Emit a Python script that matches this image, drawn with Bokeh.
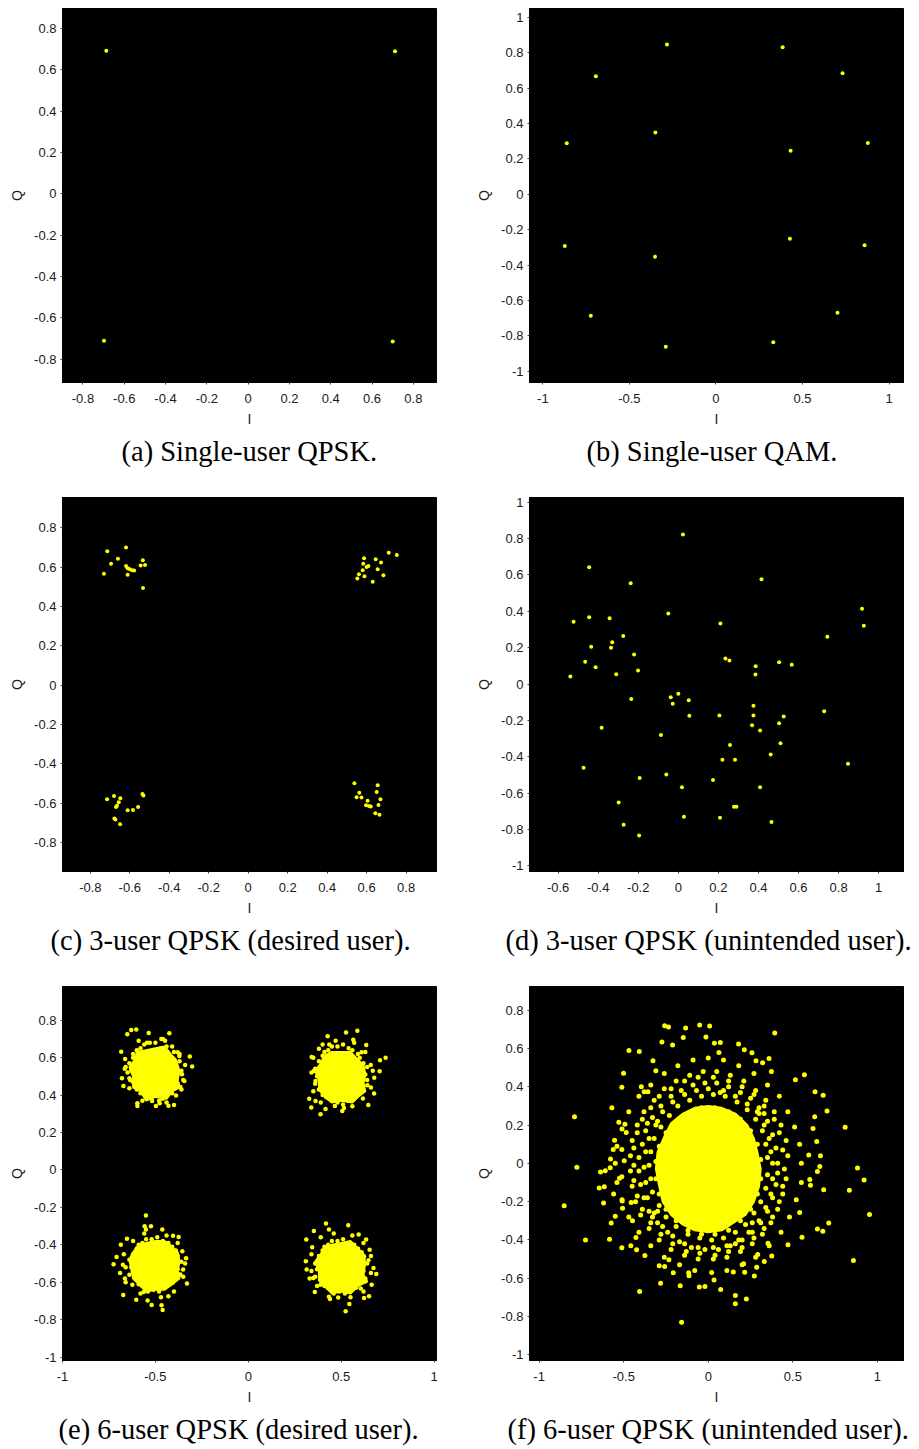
from bokeh.plotting import figure
from bokeh.layouts import column, row
from bokeh.models import FixedTicker, Range1d, Title
from bokeh.embed import file_html
from bokeh.resources import INLINE

YELLOW = "#ffff00"

# ---------------- data ----------------
# (a) single-user QPSK
a_i = [-0.687, 0.711, -0.698, 0.700]
a_q = [0.693, 0.690, -0.711, -0.714]

# (b) single-user QAM
b_i = [-0.283, 0.385, -0.694, 0.731, -0.350, -0.862, 0.431, 0.877,
       -0.873, -0.352, 0.427, 0.858, -0.723, -0.290, 0.331, 0.702]
b_q = [0.846, 0.831, 0.667, 0.684, 0.349, 0.288, 0.247, 0.290,
       -0.292, -0.352, -0.251, -0.287, -0.686, -0.861, -0.835, -0.669]

# (c) 3-user QPSK, desired user
c_pts = [(-0.714, 0.681), (-0.619, 0.700), (-0.660, 0.642), (-0.695, 0.617), (-0.731, 0.566),
         (-0.619, 0.606), (-0.611, 0.594), (-0.600, 0.589), (-0.588, 0.584), (-0.578, 0.583),
         (-0.611, 0.561), (-0.545, 0.608), (-0.534, 0.635), (-0.523, 0.611), (-0.533, 0.494),
         (0.587, 0.645), (0.583, 0.617), (0.600, 0.601), (0.609, 0.606), (0.580, 0.584),
         (0.561, 0.564), (0.553, 0.542), (0.589, 0.554), (0.631, 0.525), (0.646, 0.640),
         (0.673, 0.623), (0.656, 0.589), (0.685, 0.559), (0.712, 0.673), (0.753, 0.662),
         (-0.715, -0.581), (-0.680, -0.564), (-0.648, -0.576), (-0.656, -0.596), (-0.665, -0.613),
         (-0.670, -0.620), (-0.678, -0.679), (-0.673, -0.683), (-0.649, -0.708), (-0.611, -0.637),
         (-0.584, -0.635), (-0.558, -0.620), (-0.536, -0.554), (-0.531, -0.561),
         (0.538, -0.499), (0.549, -0.571), (0.563, -0.547), (0.574, -0.572), (0.605, -0.588),
         (0.597, -0.611), (0.612, -0.615), (0.621, -0.617), (0.656, -0.510), (0.651, -0.544),
         (0.670, -0.581), (0.660, -0.610), (0.644, -0.652), (0.665, -0.659)]
c_i = [p[0] for p in c_pts]
c_q = [p[1] for p in c_pts]

# (d) 3-user QPSK, unintended user
d_pts = [(0.023, 0.822), (-0.445, 0.643), (-0.238, 0.554), (0.415, 0.577), (-0.523, 0.343),
         (-0.445, 0.368), (-0.343, 0.362), (-0.050, 0.388), (0.210, 0.333), (0.917, 0.414),
         (0.926, 0.320), (0.744, 0.260), (-0.275, 0.264), (-0.330, 0.230), (-0.336, 0.199),
         (-0.435, 0.205), (-0.221, 0.163), (-0.465, 0.122), (-0.413, 0.093), (-0.310, 0.054),
         (-0.201, 0.074), (-0.539, 0.041), (0.235, 0.141), (0.255, 0.130), (0.386, 0.098),
         (0.385, 0.052), (0.503, 0.120), (0.566, 0.106), (-0.235, -0.082), (0.000, -0.053),
         (-0.038, -0.073), (-0.028, -0.109), (0.052, -0.089), (0.055, -0.175), (0.205, -0.173),
         (0.375, -0.119), (0.375, -0.173), (0.368, -0.227), (0.408, -0.256), (0.503, -0.215),
         (0.526, -0.178), (0.728, -0.150), (-0.383, -0.241), (-0.087, -0.280), (0.258, -0.335),
         (0.510, -0.326), (0.220, -0.416), (0.283, -0.416), (0.461, -0.388), (0.847, -0.438),
         (-0.473, -0.460), (-0.193, -0.517), (-0.060, -0.497), (0.173, -0.528), (0.018, -0.568),
         (0.408, -0.568), (-0.298, -0.651), (0.278, -0.675), (0.290, -0.675), (-0.273, -0.774),
         (0.028, -0.730), (0.208, -0.735), (0.465, -0.759), (-0.196, -0.833)]
d_i = [p[0] for p in d_pts]
d_q = [p[1] for p in d_pts]

# (e) 6-user QPSK, desired user: saturated cluster cores (outlines) + visible scattered points
e_core_i = [[-0.50, -0.45, -0.41, -0.39, -0.37, -0.38, -0.37, -0.41, -0.44, -0.50, -0.55, -0.58, -0.62, -0.62, -0.64, -0.61, -0.60, -0.55],
            [0.50, 0.55, 0.58, 0.62, 0.63, 0.62, 0.63, 0.59, 0.56, 0.50, 0.45, 0.41, 0.38, 0.38, 0.36, 0.39, 0.41, 0.45],
            [-0.50, -0.45, -0.41, -0.38, -0.37, -0.38, -0.37, -0.41, -0.45, -0.50, -0.55, -0.59, -0.62, -0.63, -0.64, -0.62, -0.59, -0.55],
            [0.50, 0.55, 0.59, 0.62, 0.63, 0.62, 0.63, 0.59, 0.55, 0.50, 0.45, 0.41, 0.38, 0.38, 0.36, 0.39, 0.41, 0.45]]
e_core_q = [[0.65, 0.66, 0.61, 0.59, 0.53, 0.48, 0.44, 0.42, 0.38, 0.39, 0.37, 0.42, 0.44, 0.50, 0.55, 0.59, 0.63, 0.64],
            [0.63, 0.63, 0.60, 0.56, 0.51, 0.46, 0.42, 0.39, 0.36, 0.37, 0.36, 0.39, 0.43, 0.48, 0.53, 0.57, 0.61, 0.63],
            [-0.38, -0.38, -0.41, -0.44, -0.49, -0.54, -0.58, -0.61, -0.64, -0.64, -0.65, -0.61, -0.58, -0.53, -0.48, -0.44, -0.40, -0.39],
            [-0.39, -0.38, -0.42, -0.45, -0.50, -0.55, -0.60, -0.62, -0.66, -0.65, -0.66, -0.62, -0.59, -0.54, -0.49, -0.45, -0.41, -0.40]]
e_pts = [
    # upper-left
    (-0.630, 0.747), (-0.603, 0.750), (-0.536, 0.732), (-0.425, 0.730), (-0.684, 0.631), (-0.651, 0.725),
    (-0.315, 0.606), (-0.302, 0.552), (-0.680, 0.490), (-0.672, 0.449), (-0.640, 0.436), (-0.597, 0.342),
    (-0.597, 0.356), (-0.497, 0.342), (-0.430, 0.343), (-0.400, 0.347), (-0.477, 0.356), (-0.344, 0.475),
    (-0.357, 0.511), (-0.380, 0.629), (-0.371, 0.609), (-0.448, 0.690), (-0.468, 0.700), (-0.545, 0.680),
    (-0.663, 0.593), (-0.665, 0.540), (-0.635, 0.479), (-0.366, 0.443), (-0.389, 0.398), (-0.518, 0.368),
    (-0.62, 0.60), (-0.63, 0.53), (-0.61, 0.45), (-0.58, 0.41), (-0.52, 0.38), (-0.46, 0.38), (-0.41, 0.41),
    (-0.38, 0.46), (-0.36, 0.53), (-0.37, 0.58), (-0.40, 0.63), (-0.44, 0.66), (-0.50, 0.68), (-0.56, 0.67),
    (-0.60, 0.64), (-0.64, 0.57), (-0.64, 0.49), (-0.60, 0.43), (-0.55, 0.39), (-0.48, 0.37), (-0.42, 0.43),
    (-0.39, 0.49), (-0.39, 0.55), (-0.42, 0.61), (-0.47, 0.65), (-0.53, 0.68), (-0.58, 0.65), (-0.62, 0.62),
    (-0.65, 0.52), (-0.62, 0.47), (-0.35, 0.48), (-0.36, 0.43), (-0.44, 0.36), (-0.57, 0.37), (-0.66, 0.55),
    (-0.59, 0.69), (-0.46, 0.70), (-0.41, 0.66), (-0.37, 0.62), (-0.34, 0.56),
    # upper-right
    (0.427, 0.714), (0.526, 0.734), (0.587, 0.743), (0.565, 0.695), (0.635, 0.668), (0.739, 0.600),
    (0.709, 0.586), (0.707, 0.527), (0.678, 0.493), (0.646, 0.347), (0.641, 0.452), (0.659, 0.561),
    (0.341, 0.604), (0.328, 0.381), (0.339, 0.333), (0.389, 0.297), (0.416, 0.326), (0.506, 0.315),
    (0.515, 0.331), (0.466, 0.342), (0.362, 0.368), (0.353, 0.529), (0.362, 0.475), (0.380, 0.648),
    (0.436, 0.670), (0.610, 0.629), (0.677, 0.409), (0.617, 0.382),
    (0.38, 0.58), (0.37, 0.50), (0.38, 0.43), (0.42, 0.39), (0.48, 0.36), (0.54, 0.37), (0.59, 0.40),
    (0.62, 0.45), (0.63, 0.51), (0.62, 0.57), (0.59, 0.62), (0.54, 0.65), (0.48, 0.66), (0.43, 0.64),
    (0.40, 0.61), (0.36, 0.54), (0.36, 0.46), (0.40, 0.40), (0.45, 0.37), (0.51, 0.35), (0.57, 0.38),
    (0.61, 0.42), (0.64, 0.48), (0.64, 0.55), (0.60, 0.60), (0.56, 0.64), (0.51, 0.67), (0.45, 0.66),
    (0.41, 0.63), (0.35, 0.60), (0.39, 0.36), (0.56, 0.34), (0.66, 0.44), (0.67, 0.53), (0.63, 0.63),
    (0.57, 0.68), (0.47, 0.69), (0.40, 0.67), (0.34, 0.52), (0.35, 0.42),
    # lower-left
    (-0.551, -0.244), (-0.558, -0.301), (-0.551, -0.318), (-0.463, -0.318), (-0.524, -0.301), (-0.725, -0.504),
    (-0.709, -0.465), (-0.673, -0.668), (-0.603, -0.693), (-0.542, -0.698), (-0.520, -0.721), (-0.467, -0.723),
    (-0.461, -0.748), (-0.430, -0.675), (-0.330, -0.607), (-0.335, -0.472), (-0.355, -0.434), (-0.375, -0.358),
    (-0.405, -0.351), (-0.653, -0.367), (-0.686, -0.399), (-0.675, -0.506), (-0.664, -0.580), (-0.624, -0.613),
    (-0.563, -0.652), (-0.518, -0.625), (-0.407, -0.602), (-0.366, -0.559), (-0.351, -0.532),
    (-0.62, -0.45), (-0.63, -0.52), (-0.61, -0.58), (-0.57, -0.62), (-0.51, -0.64), (-0.45, -0.63),
    (-0.40, -0.59), (-0.38, -0.53), (-0.38, -0.46), (-0.41, -0.41), (-0.46, -0.38), (-0.52, -0.37),
    (-0.57, -0.39), (-0.60, -0.42), (-0.64, -0.48), (-0.64, -0.56), (-0.59, -0.61), (-0.54, -0.65),
    (-0.48, -0.65), (-0.42, -0.61), (-0.37, -0.56), (-0.36, -0.49), (-0.39, -0.43), (-0.43, -0.39),
    (-0.49, -0.36), (-0.55, -0.37), (-0.59, -0.40), (-0.66, -0.52), (-0.67, -0.45), (-0.62, -0.38),
    (-0.56, -0.34), (-0.44, -0.35), (-0.38, -0.39), (-0.34, -0.50), (-0.35, -0.57), (-0.40, -0.65),
    (-0.47, -0.68), (-0.58, -0.66), (-0.66, -0.60), (-0.69, -0.55),
    # lower-right
    (0.418, -0.286), (0.538, -0.295), (0.353, -0.326), (0.434, -0.318), (0.312, -0.371), (0.594, -0.345),
    (0.634, -0.371), (0.653, -0.427), (0.647, -0.483), (0.689, -0.556), (0.674, -0.524), (0.664, -0.613),
    (0.650, -0.675), (0.623, -0.684), (0.544, -0.716), (0.524, -0.755), (0.484, -0.681), (0.434, -0.677),
    (0.358, -0.652), (0.389, -0.613), (0.310, -0.488), (0.314, -0.532), (0.344, -0.413), (0.350, -0.577),
    (0.605, -0.634), (0.580, -0.613), (0.632, -0.595), (0.623, -0.461),
    (0.38, -0.46), (0.37, -0.53), (0.39, -0.59), (0.43, -0.63), (0.49, -0.65), (0.55, -0.64), (0.60, -0.60),
    (0.62, -0.54), (0.62, -0.47), (0.59, -0.42), (0.54, -0.39), (0.48, -0.38), (0.43, -0.40), (0.40, -0.43),
    (0.36, -0.50), (0.36, -0.57), (0.41, -0.62), (0.46, -0.66), (0.52, -0.66), (0.58, -0.63), (0.63, -0.58),
    (0.64, -0.50), (0.61, -0.44), (0.57, -0.40), (0.51, -0.37), (0.45, -0.38), (0.41, -0.41), (0.34, -0.45),
    (0.34, -0.54), (0.37, -0.62), (0.44, -0.69), (0.55, -0.68), (0.62, -0.65), (0.66, -0.55), (0.66, -0.46),
    (0.62, -0.39), (0.56, -0.35), (0.46, -0.34), (0.39, -0.36), (0.33, -0.58),
]
e_i = [p[0] for p in e_pts]
e_q = [p[1] for p in e_pts]

# (f) 6-user QPSK, unintended user: saturated core (outline) + visible scattered points
f_core_i = [0.31, 0.29, 0.27, 0.23, 0.16, 0.08, 0.00, -0.08, -0.15, -0.22, -0.26, -0.30,
            -0.31, -0.29, -0.27, -0.22, -0.15, -0.08, 0.00, 0.08, 0.15, 0.22, 0.27, 0.30]
f_core_q = [-0.03, 0.06, 0.13, 0.20, 0.26, 0.29, 0.30, 0.29, 0.26, 0.21, 0.14, 0.06,
            -0.03, -0.12, -0.20, -0.27, -0.32, -0.35, -0.36, -0.35, -0.31, -0.27, -0.20, -0.12]
f_pts = [
    (-0.791, 0.243), (-0.777, -0.020), (-0.852, -0.221), (-0.726, -0.400), (-0.584, -0.396), (-0.511, -0.441),
    (-0.406, -0.670), (-0.158, -0.830), (-0.166, -0.640), (-0.282, -0.627), (0.160, -0.691), (0.160, -0.733),
    (0.225, -0.709), (0.809, 0.189), (0.882, -0.024), (0.921, -0.087), (0.834, -0.140), (0.953, -0.267),
    (0.858, -0.507), (0.712, -0.312), (0.677, -0.355), (0.645, -0.343), (0.702, 0.273), (0.679, 0.356),
    (0.631, 0.374), (0.568, 0.463), (0.515, 0.437), (0.393, 0.681), (-0.051, 0.723), (0.008, 0.718),
    (-0.258, 0.719), (-0.235, 0.712), (-0.134, 0.707), (-0.148, 0.657), (-0.014, 0.660), (-0.274, 0.634),
    (-0.211, 0.618), (-0.469, 0.590), (-0.408, 0.584), (-0.501, 0.471), (-0.511, 0.398), (-0.570, 0.290),
    (-0.327, 0.536), (-0.310, 0.484), (-0.396, 0.400), (-0.379, 0.374), (-0.357, 0.374), (0.036, 0.628),
    (0.071, 0.632), (0.063, 0.579), (0.179, 0.623), (0.213, 0.594), (0.258, 0.578), (0.282, 0.536),
    (0.359, 0.548), (0.321, 0.525), (0.373, 0.480), (0.629, 0.243), (0.619, 0.182), (0.641, 0.114),
    (0.663, 0.040), (0.594, 0.044), (0.659, -0.017), (0.645, -0.043), (0.600, -0.085), (0.682, -0.138),
    (0.604, -0.114), (0.540, -0.257), (0.554, -0.386), (0.471, -0.425), (0.353, -0.417), (0.375, -0.484),
    (0.292, -0.476), (0.331, -0.513), (0.286, -0.543), (0.209, -0.524), (0.215, -0.569), (0.148, -0.567),
    (0.272, -0.588), (0.073, -0.659), (0.034, -0.609), (-0.020, -0.644), (-0.053, -0.646), (-0.114, -0.587),
    (-0.116, -0.571), (-0.207, -0.572), (-0.258, -0.539), (-0.290, -0.535), (-0.233, -0.504), (-0.375, -0.482),
    (-0.424, -0.452), (-0.458, -0.431), (-0.428, -0.387), (-0.507, -0.235), (-0.509, -0.197), (-0.560, -0.160),
    (-0.615, -0.122), (-0.619, -0.207), (-0.645, -0.129), (-0.637, -0.045), (-0.609, -0.038), (-0.578, 0.023),
    (-0.580, -0.023), (-0.562, 0.072), (-0.554, 0.121), (-0.529, 0.215), (-0.493, 0.204), (-0.485, 0.161),
    (-0.511, 0.072), (-0.497, 0.013), (-0.511, -0.070), (-0.525, -0.078), (-0.574, -0.312), (-0.550, -0.276),
    (-0.448, -0.300), (-0.456, -0.204),
    (0.31, 0.02), (0.29, 0.10), (0.25, 0.17), (0.19, 0.23), (0.12, 0.27), (0.04, 0.29), (-0.04, 0.29),
    (-0.12, 0.26), (-0.19, 0.22), (-0.25, 0.16), (-0.29, 0.09), (-0.31, 0.01), (-0.31, -0.08), (-0.29, -0.16),
    (-0.25, -0.24), (-0.19, -0.30), (-0.12, -0.35), (-0.04, -0.37), (0.04, -0.37), (0.12, -0.35),
    (0.19, -0.30), (0.25, -0.24), (0.29, -0.16), (0.31, -0.08),
    (0.35, 0.03), (0.34, 0.10), (0.32, 0.17), (0.28, 0.23), (0.23, 0.28), (0.17, 0.32), (0.10, 0.35),
    (0.03, 0.36), (-0.04, 0.35), (-0.11, 0.33), (-0.18, 0.30), (-0.23, 0.25), (-0.28, 0.19), (-0.32, 0.13),
    (-0.34, 0.06), (-0.35, -0.01), (-0.34, -0.08), (-0.33, -0.15), (-0.29, -0.22), (-0.25, -0.28),
    (-0.19, -0.33), (-0.12, -0.37), (-0.05, -0.39), (0.02, -0.40), (0.09, -0.39), (0.16, -0.36), (0.22, -0.32),
    (0.27, -0.26), (0.31, -0.20), (0.34, -0.13), (0.35, -0.06), (0.30, 0.26), (-0.30, 0.22), (-0.30, -0.25),
    (0.26, -0.31), (0.07, 0.37),
    (0.37, 0.06), (0.36, 0.13), (0.33, 0.20), (0.29, 0.27), (0.23, 0.31), (0.16, 0.35), (0.09, 0.38),
    (0.00, 0.39), (-0.07, 0.38), (-0.14, 0.36), (-0.21, 0.32), (-0.27, 0.27), (-0.31, 0.20), (-0.35, 0.13),
    (-0.37, 0.06), (-0.38, -0.02), (-0.37, -0.10), (-0.36, -0.18), (-0.32, -0.26), (-0.27, -0.33),
    (-0.21, -0.38), (-0.14, -0.42), (-0.06, -0.44), (0.03, -0.44), (0.11, -0.43), (0.18, -0.40), (0.24, -0.36),
    (0.30, -0.30), (0.34, -0.23), (0.37, -0.16), (0.38, -0.08), (0.38, 0.00),
    (0.41, 0.00), (0.40, 0.08), (0.38, 0.15), (0.35, 0.22), (0.30, 0.29), (0.25, 0.34), (0.19, 0.37),
    (0.12, 0.40), (0.05, 0.42), (-0.02, 0.42), (-0.09, 0.41), (-0.16, 0.38), (-0.22, 0.35), (-0.28, 0.30),
    (-0.33, 0.24), (-0.37, 0.17), (-0.39, 0.10), (-0.41, 0.03), (-0.41, -0.04), (-0.40, -0.11), (-0.38, -0.18),
    (-0.35, -0.25), (-0.30, -0.31), (-0.24, -0.36), (-0.17, -0.41), (-0.10, -0.44), (-0.02, -0.45),
    (0.06, -0.45), (0.13, -0.43), (0.20, -0.40), (0.26, -0.36), (0.31, -0.31), (0.35, -0.25), (0.38, -0.18),
    (0.40, -0.11), (0.41, -0.05), (0.33, 0.26), (-0.36, 0.21), (-0.33, -0.28), (0.16, -0.42),
    (0.44, 0.07), (0.42, 0.16), (0.39, 0.23), (0.33, 0.30), (0.27, 0.36), (0.20, 0.40), (0.12, 0.43),
    (0.03, 0.45), (-0.06, 0.45), (-0.14, 0.43), (-0.22, 0.39), (-0.29, 0.35), (-0.34, 0.29), (-0.39, 0.23),
    (-0.42, 0.16), (-0.44, 0.08), (-0.44, -0.01), (-0.44, -0.09), (-0.42, -0.17), (-0.39, -0.24),
    (-0.34, -0.31), (-0.28, -0.37), (-0.21, -0.42), (-0.13, -0.46), (-0.05, -0.47), (0.04, -0.48),
    (0.12, -0.46), (0.20, -0.44), (0.27, -0.39), (0.33, -0.34), (0.38, -0.28), (0.42, -0.20), (0.44, -0.12),
    (0.45, -0.03),
    (0.47, 0.04), (0.46, 0.12), (0.43, 0.20), (0.39, 0.27), (0.34, 0.33), (0.28, 0.38), (0.21, 0.43),
    (0.13, 0.46), (0.05, 0.48), (-0.03, 0.48), (-0.11, 0.46), (-0.19, 0.43), (-0.26, 0.39), (-0.32, 0.33),
    (-0.38, 0.27), (-0.42, 0.20), (-0.45, 0.12), (-0.46, 0.04), (-0.46, -0.04), (-0.45, -0.12), (-0.43, -0.20),
    (-0.40, -0.27), (-0.35, -0.34), (-0.29, -0.40), (-0.22, -0.45), (-0.14, -0.48), (-0.06, -0.50),
    (0.03, -0.50), (0.11, -0.49), (0.19, -0.46), (0.26, -0.42), (0.32, -0.37), (0.37, -0.31), (0.41, -0.24),
    (0.44, -0.16), (0.46, -0.08),
    (0.55, 0.00), (0.54, 0.10), (0.51, 0.19), (0.47, 0.27), (0.42, 0.35), (0.35, 0.41), (0.27, 0.47),
    (0.18, 0.51), (0.09, 0.54), (0.00, 0.55), (-0.09, 0.54), (-0.18, 0.51), (-0.26, 0.47), (-0.34, 0.41),
    (-0.41, 0.35), (-0.47, 0.27), (-0.51, 0.18), (-0.54, 0.09), (-0.55, 0.00), (-0.54, -0.10), (-0.51, -0.19),
    (-0.47, -0.28), (-0.41, -0.36), (-0.34, -0.43), (-0.26, -0.49), (-0.17, -0.53), (-0.08, -0.56),
    (0.02, -0.57), (0.11, -0.56), (0.20, -0.53), (0.28, -0.49), (0.36, -0.43), (0.43, -0.36), (0.48, -0.28),
    (0.52, -0.19), (0.55, -0.10),
]
f_i = [p[0] for p in f_pts]
f_q = [p[1] for p in f_pts]

# ticks and tick labels
t08 = [-0.8, -0.6, -0.4, -0.2, 0, 0.2, 0.4, 0.6, 0.8]
t08_lab = ["-0.8", "-0.6", "-0.4", "-0.2", "0", "0.2", "0.4", "0.6", "0.8"]
t_half = [-1, -0.5, 0, 0.5, 1]
t_half_lab = ["-1", "-0.5", "0", "0.5", "1"]
t_one = [-1, -0.8, -0.6, -0.4, -0.2, 0, 0.2, 0.4, 0.6, 0.8, 1]
t_one_lab = ["-1", "-0.8", "-0.6", "-0.4", "-0.2", "0", "0.2", "0.4", "0.6", "0.8", "1"]
t_d_x = [-0.6, -0.4, -0.2, 0, 0.2, 0.4, 0.6, 0.8, 1]
t_d_x_lab = ["-0.6", "-0.4", "-0.2", "0", "0.2", "0.4", "0.6", "0.8", "1"]
t_ef_y = [-1, -0.8, -0.6, -0.4, -0.2, 0, 0.2, 0.4, 0.6, 0.8]
t_ef_y_lab = ["-1", "-0.8", "-0.6", "-0.4", "-0.2", "0", "0.2", "0.4", "0.6", "0.8"]

captions = ["(a) Single-user QPSK.", "(b) Single-user QAM.",
            "(c) 3-user QPSK (desired user).", "(d) 3-user QPSK (unintended user).",
            "(e) 6-user QPSK (desired user).", "(f) 6-user QPSK (unintended user)."]

SANS = "Liberation Sans"
SERIF = "Liberation Serif"


def panel(xr, yr, xt, xl, yt, yl, left_col, caption, cap_offset, height, mb_bottom):
    p = figure(width=460 if left_col else 459, height=height,
               x_range=Range1d(*xr), y_range=Range1d(*yr),
               output_backend="svg", toolbar_location=None,
               min_border_left=62 if left_col else 69,
               min_border_right=24 if left_col else 16,
               min_border_top=8, min_border_bottom=mb_bottom)
    p.background_fill_color = "black"
    p.border_fill_color = "white"
    p.outline_line_color = "black"
    p.grid.visible = False
    for ax, ticks, labs, name in ((p.xaxis[0], xt, xl, "I"), (p.yaxis[0], yt, yl, "Q")):
        ax.ticker = FixedTicker(ticks=ticks)
        ax.major_label_overrides = dict(zip(ticks, labs))
        ax.minor_tick_line_color = None
        ax.major_tick_in = 0
        ax.major_tick_out = 2
        ax.major_tick_line_color = "#444444"
        ax.axis_line_color = "black"
        ax.major_label_text_font = SANS
        ax.major_label_text_font_size = "13px"
        ax.major_label_text_color = "#1a1a1a"
        ax.axis_label = name
        ax.axis_label_text_font = SANS
        ax.axis_label_text_font_size = "14px"
        ax.axis_label_text_font_style = "normal"
        ax.axis_label_text_color = "#1a1a1a"
    p.xaxis.major_label_standoff = 9
    p.xaxis.axis_label_standoff = 5
    p.yaxis.major_label_standoff = 4
    p.yaxis.axis_label_standoff = 6
    p.add_layout(Title(text=caption, align="left", offset=cap_offset, standoff=8,
                       text_font=SERIF, text_font_size="28.5px", text_font_style="normal",
                       text_color="black"), "below")
    return p


pa = panel((-0.899, 0.912), (-0.913, 0.897), t08, t08_lab, t08, t08_lab, True, captions[0], 59, 489, 107)
pa.scatter(a_i, a_q, size=4, fill_color=YELLOW, line_color=None)

pb = panel((-1.077, 1.083), (-1.063, 1.05), t_half, t_half_lab, t_one, t_one_lab, False, captions[1], 57, 489, 107)
pb.scatter(b_i, b_q, size=4, fill_color=YELLOW, line_color=None)

pc = panel((-0.941, 0.954), (-0.948, 0.954), t08, t08_lab, t08, t08_lab, True, captions[2], -12, 489, 107)
pc.scatter(c_i, c_q, size=4, fill_color=YELLOW, line_color=None)

pd = panel((-0.743, 1.124), (-1.031, 1.026), t_d_x, t_d_x_lab, t_one, t_one_lab, False, captions[3], -24, 489, 107)
pd.scatter(d_i, d_q, size=4, fill_color=YELLOW, line_color=None)

pe = panel((-1.0, 1.013), (-1.018, 0.98), t_half, t_half_lab, t_ef_y, t_ef_y_lab, True, captions[4], -4, 471, 89)
pe.patches(e_core_i, e_core_q, fill_color=YELLOW, line_color=YELLOW, line_width=2)
pe.scatter(e_i, e_q, size=4.5, fill_color=YELLOW, line_color=None)

pf = panel((-1.057, 1.154), (-1.030, 0.924), t_half, t_half_lab, t_ef_y, t_ef_y_lab, False, captions[5], -22, 471, 89)
pf.patch(f_core_i, f_core_q, fill_color=YELLOW, line_color=YELLOW, line_width=2)
pf.scatter(f_i, f_q, size=5, fill_color=YELLOW, line_color=None)

layout = column(row(pa, pb), row(pc, pd), row(pe, pf))

open("out.html", "w").write(file_html(layout, INLINE))
